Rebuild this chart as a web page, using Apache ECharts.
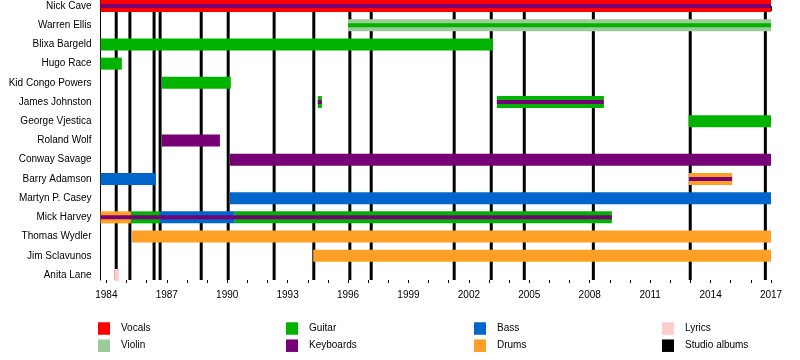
<!DOCTYPE html>
<html><head><meta charset="utf-8">
<script src="https://cdn.jsdelivr.net/npm/echarts@6/dist/echarts.min.js"></script>
<style>html,body{margin:0;padding:0;background:#fff}#c{width:800px;height:360px}</style>
</head><body><div id="c"></div>
<script>
const members = ["Nick Cave","Warren Ellis","Blixa Bargeld","Hugo Race","Kid Congo Powers","James Johnston","George Vjestica","Roland Wolf","Conway Savage","Barry Adamson","Martyn P. Casey","Mick Harvey","Thomas Wydler","Jim Sclavunos","Anita Lane"];
const majorYears = [1984,1987,1990,1993,1996,1999,2002,2005,2008,2011,2014,2017];
const allYears = [1984,1985,1986,1987,1988,1989,1990,1991,1992,1993,1994,1995,1996,1997,1998,1999,2000,2001,2002,2003,2004,2005,2006,2007,2008,2009,2010,2011,2012,2013,2014,2015,2016,2017];
const periodStart = 1983.71;
const periodEnd = 2017;

const vocals = [["Nick Cave",1983.71,2017]];
const violin = [["Warren Ellis",1996.0,2017]];
const guitar = [["Blixa Bargeld",1983.71,2003.19],["Hugo Race",1983.71,1984.77],["Kid Congo Powers",1986.76,1990.18],["James Johnston",1994.50,1994.70],["James Johnston",2003.39,2008.70],["George Vjestica",2012.91,2017],["Mick Harvey",1985.22,1986.66],["Mick Harvey",1990.37,2009.10]];
const bass = [["Barry Adamson",1983.71,1986.46],["Martyn P. Casey",1990.13,2017],["Mick Harvey",1986.66,1990.37]];
const keyboards = [["Roland Wolf",1986.76,1989.64],["Conway Savage",1990.13,2017]];
const drums = [["Barry Adamson",2012.93,2015.07],["Thomas Wydler",1985.28,2017],["Jim Sclavunos",1994.27,2017],["Mick Harvey",1983.71,1985.22]];
const lyrics = [["Anita Lane",1984.42,1984.62]];
const guitarStripe = [["Warren Ellis",1996.0,2017]];
const keyboardStripe = [["Nick Cave",1983.71,2017],["James Johnston",1994.50,1994.70],["James Johnston",2003.39,2008.70],["Barry Adamson",2012.93,2015.07],["Mick Harvey",1983.71,2009.10]];
const albums = [1984.49,1985.17,1986.37,1986.67,1988.71,1990.05,1992.33,1994.30,1996.09,1997.15,2001.27,2003.11,2004.75,2008.18,2012.99,2016.72];

const C = {Vocals:"#FF0000",Violin:"#99CC99",Guitar:"#00B300",Keyboards:"#770077",Bass:"#0066CC",Drums:"#FF9F26",Lyrics:"#FFCCCC","Studio albums":"#000000"};
const FONT = "Liberation Sans, Arial, sans-serif";

function toData(arr){ return arr.map(d => [members.indexOf(d[0]), d[1], d[2]]); }
function barRender(half){
  return function(params, api){
    const r = api.value(0), s = api.value(1), e = api.value(2);
    const p1 = api.coord([s, r - half]);
    const p2 = api.coord([e, r + half]);
    return {type:'rect', shape:{x:p1[0], y:p1[1], width:p2[0]-p1[0], height:p2[1]-p1[1]}, style:{fill: api.visual('color')}};
  };
}
const FULL = 0.3123, STRIPE = 0.1041;
function barSeries(name, arr, half){
  return {type:'custom', name:name, renderItem:barRender(half), data:toData(arr), itemStyle:{color:C[name]}, encode:{x:[1,2], y:0}, silent:true};
}

const series = [
  {type:'custom', name:'Studio albums', itemStyle:{color:'#000'}, silent:true,
   data: albums.map(v => [v]), encode:{x:0},
   renderItem: function(params, api){
     const x = api.coord([api.value(0), 0])[0];
     const cs = params.coordSys;
     return {type:'rect', shape:{x:x-1.5, y:cs.y, width:3, height:cs.height}, style:{fill:'#000'}};
   }},
  barSeries('Vocals', vocals, FULL),
  barSeries('Violin', violin, FULL),
  barSeries('Guitar', guitar, FULL),
  barSeries('Bass', bass, FULL),
  barSeries('Keyboards', keyboards, FULL),
  barSeries('Drums', drums, FULL),
  barSeries('Lyrics', lyrics, FULL),
  barSeries('Guitar', guitarStripe, STRIPE),
  barSeries('Keyboards', keyboardStripe, STRIPE)
];

function legend(left, names){
  return {data:names, left:left, top:322, orient:'vertical', padding:0, itemWidth:12, itemHeight:12.5, itemGap:4.2, icon:'rect', selectedMode:false,
    textStyle:{fontFamily:FONT, fontSize:10, color:'#000', padding:[1,0,0,6], lineHeight:12}};
}

const chart = echarts.init(document.getElementById('c'), null, {renderer:'canvas'});
chart.setOption({
  animation:false,
  backgroundColor:'#fff',
  textStyle:{fontFamily:FONT},
  grid:{left:100.5, right:29, top:0, height:280},
  xAxis:[
    {type:'value', min:periodStart, max:periodEnd, position:'bottom',
     axisLine:{show:true, lineStyle:{color:'#000', width:1}},
     axisTick:{show:true, customValues:majorYears, length:5, lineStyle:{color:'#000'}},
     axisLabel:{customValues:majorYears, formatter: v => String(v), fontSize:10, color:'#000', fontFamily:FONT, margin:10},
     splitLine:{show:false}},
    {type:'value', min:periodStart, max:periodEnd, position:'bottom', gridIndex:0,
     axisLine:{show:false},
     axisTick:{show:true, customValues:allYears, length:3, lineStyle:{color:'#000'}},
     axisLabel:{show:false}, splitLine:{show:false}}
  ],
  yAxis:{type:'value', inverse:true, min:-0.3123, max:14.26,
    axisLine:{show:true, lineStyle:{color:'#000', width:1}},
    axisTick:{show:false}, splitLine:{show:false},
    axisLabel:{customValues:members.map((m,i)=>i), formatter: v => members[Math.round(v)], fontSize:10, color:'#000', fontFamily:FONT, margin:9}},
  legend:[
    legend(98, ['Vocals','Violin']),
    legend(286, ['Guitar','Keyboards']),
    legend(474, ['Bass','Drums']),
    legend(662, ['Lyrics','Studio albums'])
  ],
  series: series
});
</script></body></html>
